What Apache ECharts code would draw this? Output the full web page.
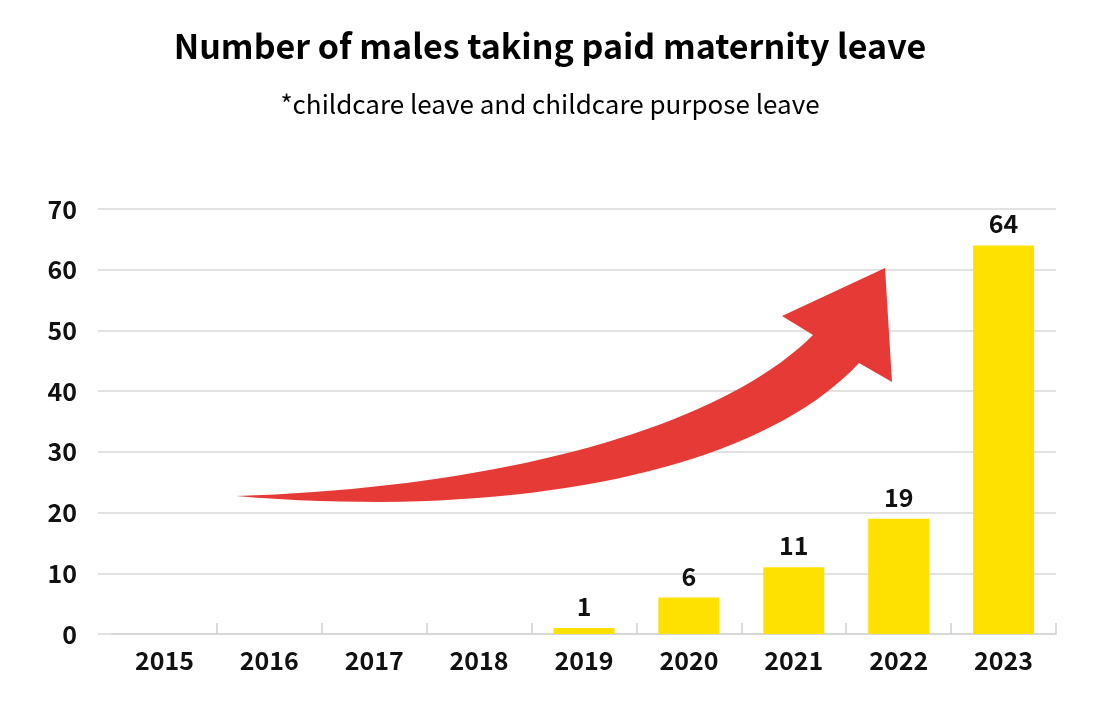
<!DOCTYPE html>
<html>
<head>
<meta charset="utf-8">
<script src="https://cdn.jsdelivr.net/npm/echarts@6/dist/echarts.min.js"></script>
<style>
html,body{margin:0;padding:0;background:#fff;}
#chart{width:1100px;height:710px;}
</style>
</head>
<body>
<div id="chart"></div>
<script>
const titleText = "Number of males taking paid maternity leave";
const subtitleText = "*childcare leave and childcare purpose leave";
const years = ["2015","2016","2017","2018","2019","2020","2021","2022","2023"];
const males = [0, 0, 0, 0, 1, 6, 11, 19, 64];
const yMin = 0, yMax = 70, yStep = 10;

const FONT = '"Noto Sans CJK JP", "Noto Sans", sans-serif';
const chart = echarts.init(document.getElementById('chart'), null, {renderer:'canvas'});

// decorative trend arrow outline (cubic bezier edges sampled to a polygon)
function cubic(p0, p1, p2, p3, n) {
  const pts = [];
  for (let i = 0; i <= n; i++) {
    const t = i / n, u = 1 - t;
    pts.push([
      u*u*u*p0[0] + 3*u*u*t*p1[0] + 3*u*t*t*p2[0] + t*t*t*p3[0],
      u*u*u*p0[1] + 3*u*u*t*p1[1] + 3*u*t*t*p2[1] + t*t*t*p3[1]
    ]);
  }
  return pts;
}
const arrowPts = []
  .concat(cubic([236,496],[500,488],[720,428],[813,335], 40))
  .concat([[782,316],[885,268],[892,382]])
  .concat(cubic([859,363],[760,470],[520,520],[236,496], 40));

chart.setOption({
  backgroundColor: '#fff',
  animation: false,
  title: [
    {text: titleText, left: 'center', top: 24,
     textStyle: {fontFamily: FONT, fontWeight: 'bold', fontSize: 34, color: '#000'}},
    {text: subtitleText, left: 'center', top: 86,
     textStyle: {fontFamily: FONT, fontWeight: 'normal', fontSize: 26, color: '#000'}}
  ],
  grid: [
    {left: 98, right: 44, top: 209, bottom: 76},
    {left: 112, right: 44, top: 209, bottom: 76}
  ],
  xAxis: [
    {type: 'value', gridIndex: 0, show: false, min: 0, max: 1},
    {type: 'category', gridIndex: 1, data: years,
     axisLine: {lineStyle: {color: '#d4d4d4', width: 1.5}},
     axisTick: {show: true, inside: true, length: 11,
                interval: function(index){ return index !== 0; },
                lineStyle: {color: '#cfcfcf', width: 1.5}},
     axisLabel: {fontFamily: FONT, fontWeight: 'bold', fontSize: 25, color: '#111', margin: 14, interval: 0}}
  ],
  yAxis: [
    {type: 'value', gridIndex: 0, min: yMin, max: yMax, interval: yStep,
     axisLine: {show: false}, axisTick: {show: false},
     splitLine: {lineStyle: {color: '#d9d9d9', width: 1.5}},
     axisLabel: {fontFamily: FONT, fontWeight: 'bold', fontSize: 25, color: '#111', margin: 21}},
    {type: 'value', gridIndex: 1, min: yMin, max: yMax, interval: yStep, show: false}
  ],
  graphic: [
    {type: 'polygon', z: 10,
     shape: {points: arrowPts},
     style: {fill: '#e63a36'}}
  ],
  series: [
    {type: 'bar', xAxisIndex: 1, yAxisIndex: 1, data: males, barWidth: 61,
     itemStyle: {color: '#ffe100'},
     label: {show: true, position: 'top', distance: 9,
             fontFamily: FONT, fontWeight: 'bold', fontSize: 25, color: '#111',
             formatter: function(p){ return p.value > 0 ? p.value : ''; }}}
  ]
});
</script>
</body>
</html>
